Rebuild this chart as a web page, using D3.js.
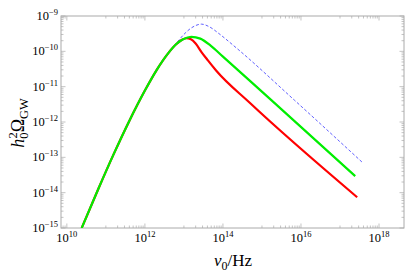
<!DOCTYPE html>
<html lang="en">
  <head>
    <meta charset="UTF-8" />
    <title>GW spectrum</title>
    <style>
      body { margin: 0; background: #fff; }
      svg { display: block; }
    </style>
  </head>
  <body>
    <svg id="svg" width="409" height="273"></svg>

    <script src="https://d3js.org/d3.v7.min.js"></script>
    <script>
      // log10 values
      const xDomainExp = [9.85, 18.64];
      const yDomainExp = [-15, -9];
      const xLabelExps = [10, 12, 14, 16, 18];
      const yLabelExps = [-9, -10, -11, -12, -13, -14, -15];

      const blueNu = [10.38, 10.8, 11.2, 11.6, 12.0, 12.3, 12.6, 12.8, 13.0, 13.2, 13.45, 13.66, 13.9, 14.34, 15.83, 17.57];
      const blueOmega = [-15.0, -13.91, -12.91, -11.97, -11.11, -10.53, -10.05, -9.78, -9.52, -9.33, -9.23, -9.31, -9.5, -9.9, -11.38, -13.14];

      const greenNu = [10.38, 10.8, 11.2, 11.6, 12.0, 12.3, 12.6, 12.8, 12.98, 13.19, 13.42, 13.7, 14.0, 15.24, 17.39];
      const greenOmega = [-15.0, -13.91, -12.91, -11.97, -11.11, -10.53, -10.05, -9.8, -9.66, -9.59, -9.64, -9.85, -10.15, -11.38, -13.53];

      const redNu = [10.38, 10.8, 11.2, 11.6, 12.0, 12.3, 12.6, 12.8, 12.95, 13.06, 13.18, 13.3, 13.45, 13.61, 13.83, 14.68, 17.44];
      const redOmega = [-15.0, -13.91, -12.91, -11.97, -11.11, -10.53, -10.05, -9.8, -9.67, -9.63, -9.66, -9.78, -10.02, -10.25, -10.55, -11.45, -14.13];

      const svg = d3.select('#svg')
        .attr('font-family', "'Liberation Serif', 'Times New Roman', Tinos, 'DejaVu Serif', serif");
      const pL = 61, pR = 404, pT = 16, pB = 228;

      const x = d3.scaleLog()
        .domain(xDomainExp.map((e) => Math.pow(10, e)))
        .range([pL, pR]);
      const y = d3.scaleLog()
        .domain(yDomainExp.map((e) => Math.pow(10, e)))
        .range([pB, pT]);

      const frameColor = '#aaa';

      // ticks: x major at even decades, minor at k*10^odd
      const xMajor = [], xMinor = [];
      for (let n = 9; n <= 18; n++) {
        if (n % 2 === 0) xMajor.push(Math.pow(10, n));
        else for (let k = 1; k <= 9; k++) xMinor.push(k * Math.pow(10, n));
      }
      const yMajor = [], yMinor = [];
      for (let n = -15; n <= -9; n++) {
        yMajor.push(Math.pow(10, n));
        if (n < -9) for (let k = 2; k <= 9; k++) yMinor.push(k * Math.pow(10, n));
      }
      const inX = (v) => v >= x.domain()[0] && v <= x.domain()[1];

      const ticks = svg.append('g').attr('stroke', frameColor).attr('stroke-width', 0.7);
      xMajor.filter(inX).forEach((v) => {
        ticks.append('line').attr('x1', x(v)).attr('x2', x(v)).attr('y1', pB).attr('y2', pB - 4.5);
        ticks.append('line').attr('x1', x(v)).attr('x2', x(v)).attr('y1', pT).attr('y2', pT + 4.5);
      });
      xMinor.filter(inX).forEach((v) => {
        ticks.append('line').attr('x1', x(v)).attr('x2', x(v)).attr('y1', pB).attr('y2', pB - 2.5);
        ticks.append('line').attr('x1', x(v)).attr('x2', x(v)).attr('y1', pT).attr('y2', pT + 2.5);
      });
      yMajor.forEach((v) => {
        ticks.append('line').attr('y1', y(v)).attr('y2', y(v)).attr('x1', pL).attr('x2', pL + 4.5);
        ticks.append('line').attr('y1', y(v)).attr('y2', y(v)).attr('x1', pR).attr('x2', pR - 4.5);
      });
      yMinor.forEach((v) => {
        ticks.append('line').attr('y1', y(v)).attr('y2', y(v)).attr('x1', pL).attr('x2', pL + 2.5);
        ticks.append('line').attr('y1', y(v)).attr('y2', y(v)).attr('x1', pR).attr('x2', pR - 2.5);
      });

      svg.append('rect')
        .attr('x', pL).attr('y', pT)
        .attr('width', pR - pL).attr('height', pB - pT)
        .attr('fill', 'none').attr('stroke', frameColor).attr('stroke-width', 1);

      // tick labels
      xLabelExps.forEach((e) => {
        const t = svg.append('text')
          .attr('x', x(Math.pow(10, e))).attr('y', 242)
          .attr('text-anchor', 'middle').attr('font-size', 12.5);
        t.append('tspan').text('10');
        t.append('tspan').attr('dy', -5).attr('font-size', 8.5).text(e);
      });
      yLabelExps.forEach((e) => {
        const t = svg.append('text')
          .attr('x', 58).attr('y', y(Math.pow(10, e)) + 4)
          .attr('text-anchor', 'end').attr('font-size', 12.5);
        t.append('tspan').text('10');
        t.append('tspan').attr('dy', -5).attr('font-size', 8.5).text('\u2212' + (-e));
      });

      // curves
      svg.append('clipPath').attr('id', 'clip')
        .append('rect').attr('x', pL).attr('y', pT)
        .attr('width', pR - pL).attr('height', pB - pT);

      const line = d3.line()
        .x((d) => x(Math.pow(10, d[0])))
        .y((d) => y(Math.pow(10, d[1])))
        .curve(d3.curveMonotoneX);

      const plot = svg.append('g').attr('clip-path', 'url(#clip)').attr('fill', 'none');
      plot.append('path')
        .attr('d', line(d3.zip(blueNu, blueOmega)))
        .attr('stroke', '#4d4dff').attr('stroke-width', 0.9)
        .attr('stroke-dasharray', '3,2');
      plot.append('path')
        .attr('d', line(d3.zip(redNu, redOmega)))
        .attr('stroke', '#ff0000').attr('stroke-width', 2.2);
      plot.append('path')
        .attr('d', line(d3.zip(greenNu, greenOmega)))
        .attr('stroke', '#00ee00').attr('stroke-width', 2.2);

      // axis titles
      const xt = svg.append('text')
        .attr('x', 233).attr('y', 266)
        .attr('text-anchor', 'middle').attr('font-size', 17);
      xt.append('tspan').attr('font-style', 'italic').text('\u03bd');
      xt.append('tspan').attr('font-size', 12).attr('dy', 4).text('0');
      xt.append('tspan').attr('dy', -4).text('/Hz');

      const yt = svg.append('text')
        .attr('transform', 'translate(24,123) rotate(-90)')
        .attr('text-anchor', 'middle').attr('font-size', 18);
      yt.append('tspan').attr('font-style', 'italic').text('h');
      yt.append('tspan').attr('font-size', 12.5).attr('dy', 4).text('0');
      yt.append('tspan').attr('font-size', 12.5).attr('dx', -6).attr('dy', -11).text('2');
      yt.append('tspan').attr('dy', 7).text('\u03a9');
      yt.append('tspan').attr('font-size', 12.5).attr('dy', 4).text('GW');
    </script>
  </body>
</html>
